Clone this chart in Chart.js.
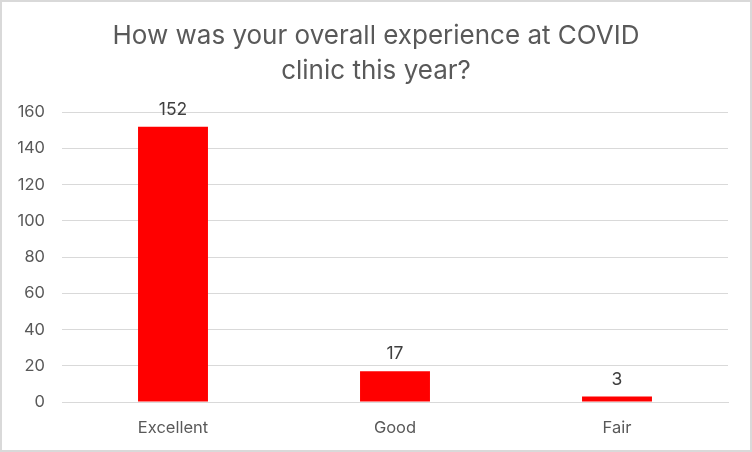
<!DOCTYPE html>
<html>
<head>
<meta charset="utf-8">
<script src="https://cdn.jsdelivr.net/npm/chart.js@4/dist/chart.umd.min.js"></script>
<style>
  html, body { margin: 0; padding: 0; background: #fff; }
  canvas { display: block; }
</style>
</head>
<body>
<canvas id="chart" width="752" height="452"></canvas>
<script>
const categories = ['Excellent', 'Good', 'Fair'];
const responses = [152, 17, 3];
const yTicks = [0, 20, 40, 60, 80, 100, 120, 140, 160];
const titleLines = ['How was your overall experience at COVID', 'clinic this year?'];

const FONT = 'Inter, Roboto, "Open Sans", sans-serif';

// white background plus the thin frame Excel puts round the chart
const framePlugin = {
  id: 'frame',
  afterLayout(chart){
    // centre the title on the whole canvas, not the padded box
    const t = chart.titleBlock;
    if(t){ t.left += 12; t.right += 12; }
  },
  beforeDraw(chart){
    const c = chart.ctx;
    c.save();
    c.fillStyle = '#fff';
    c.fillRect(0, 0, chart.width, chart.height);
    c.strokeStyle = '#d9d9d9';
    c.lineWidth = 2;
    c.strokeRect(1, 1, chart.width - 2, chart.height - 2);
    c.restore();
  }
};

// value labels on top of each bar
const valueLabels = {
  id: 'valueLabels',
  afterDatasetsDraw(chart){
    const c = chart.ctx;
    c.save();
    c.font = '17.5px ' + FONT;
    c.fillStyle = '#404040';
    c.textAlign = 'center';
    c.textBaseline = 'middle';
    chart.getDatasetMeta(0).data.forEach((bar, i) => {
      c.fillText(String(responses[i]), bar.x, bar.y - 17);
    });
    c.restore();
  }
};

new Chart(document.getElementById('chart'), {
  type: 'bar',
  data: {
    labels: categories,
    datasets: [{
      data: responses,
      backgroundColor: '#ff0000',
      borderWidth: 0,
      categoryPercentage: 1,
      barPercentage: 0.315
    }]
  },
  options: {
    responsive: false,
    animation: false,
    devicePixelRatio: 1,
    layout: { padding: { left: 0, right: 24, top: 0, bottom: 0 } },
    plugins: {
      legend: { display: false },
      tooltip: { enabled: false },
      title: {
        display: true,
        text: titleLines,
        color: '#595959',
        font: { family: FONT, size: 26, weight: 'normal', lineHeight: 1.35 },
        padding: { top: 19, bottom: 23 }
      }
    },
    scales: {
      x: {
        afterFit(scale){ scale.height = 50; },
        grid: { display: false, drawTicks: false },
        border: { color: '#d9d9d9', width: 1 },
        ticks: { color: '#595959', font: { family: FONT, size: 16.5 }, padding: 16 }
      },
      y: {
        min: 0,
        max: yTicks[yTicks.length - 1],
        afterBuildTicks(scale){ scale.ticks = yTicks.map(v => ({ value: v })); },
        afterFit(scale){ scale.width = 62; },
        grid: { color: '#d9d9d9', drawTicks: false },
        border: { display: false },
        ticks: { color: '#595959', font: { family: FONT, size: 16.5 }, padding: 17 }
      }
    }
  },
  plugins: [framePlugin, valueLabels]
});
</script>
</body>
</html>
